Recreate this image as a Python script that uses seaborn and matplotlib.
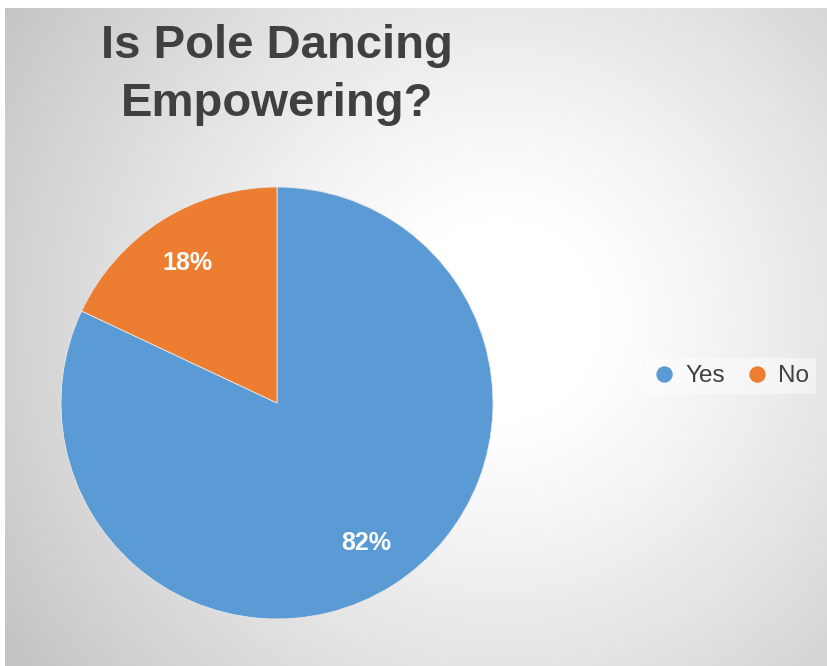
import numpy as np
import matplotlib
matplotlib.use("Agg")
import matplotlib.pyplot as plt
from matplotlib.lines import Line2D
import seaborn as sns

# ---- data ----
categories = ["Yes", "No"]
shares = [82, 18]
title_lines = ["Is Pole Dancing", "Empowering?"]

sns.set_style("white")
plt.rcParams["font.family"] = ["Liberation Sans", "DejaVu Sans"]

W, H, DPI = 827, 666, 100
fig = plt.figure(figsize=(W / DPI, H / DPI), dpi=DPI)
fig.patch.set_facecolor("white")

# ---- background radial gradient (chart area) ----
x0, y0 = 5, 8  # chart area top-left in px
bg = fig.add_axes([x0 / W, 0, 1 - x0 / W, 1 - y0 / H])
bg.set_axis_off()
yy, xx = np.mgrid[y0:H, x0:W]
d = np.hypot(xx - 500, (yy - 320) * 1.0)
t = np.clip((d - 100) / 500, 0, 1) ** 1.15
val = (255 - 60 * t) / 255.0
img = np.dstack([val, val, val])
bg.imshow(img, aspect="auto", extent=[0, 1, 0, 1], origin="upper")
bg.set_xlim(0, 1)
bg.set_ylim(0, 1)

# ---- pie ----
cx, cy, r = 277, 403, 216
ax = fig.add_axes([(cx - r) / W, (H - cy - r) / H, 2 * r / W, 2 * r / H])
ax.set_aspect("equal")
colors = ["#5B9BD5", "#ED7D31"]
wedges, texts, autotexts = ax.pie(
    shares,
    colors=colors,
    startangle=90,
    counterclock=False,
    radius=1.0,
    autopct=lambda p: f"{p:.0f}%",
    pctdistance=0.77,
    wedgeprops=dict(linewidth=0.6, edgecolor="#e8e8e8"),
    textprops=dict(color="white", fontsize=18, fontweight="bold"),
)
ax.set_xlim(-1, 1)
ax.set_ylim(-1, 1)
ax.set_axis_off()

# ---- title ----
fig.text(cx / W, 1 - 58 / H, title_lines[0], ha="center", va="baseline",
         fontsize=34, fontweight="bold", color="#404040")
fig.text(cx / W, 1 - 116 / H, title_lines[1], ha="center", va="baseline",
         fontsize=34, fontweight="bold", color="#404040")

# ---- legend ----
handles = [Line2D([0], [0], marker="o", linestyle="", markersize=10.8,
                  markerfacecolor=c, markeredgecolor=c) for c in colors]
leg = fig.legend(handles, categories, loc="center left",
                 bbox_to_anchor=(634 / W, 1 - 376 / H), ncol=2,
                 fontsize=17.5, frameon=True, handletextpad=0.4,
                 columnspacing=0.9, borderpad=0.3, handlelength=0.9)
leg.get_frame().set_facecolor("white")
leg.get_frame().set_alpha(0.45)
leg.get_frame().set_edgecolor("none")
leg.get_frame().set_boxstyle("square", pad=0)
for t_ in leg.get_texts():
    t_.set_color("#404040")

fig.savefig("out.png", dpi=DPI)
